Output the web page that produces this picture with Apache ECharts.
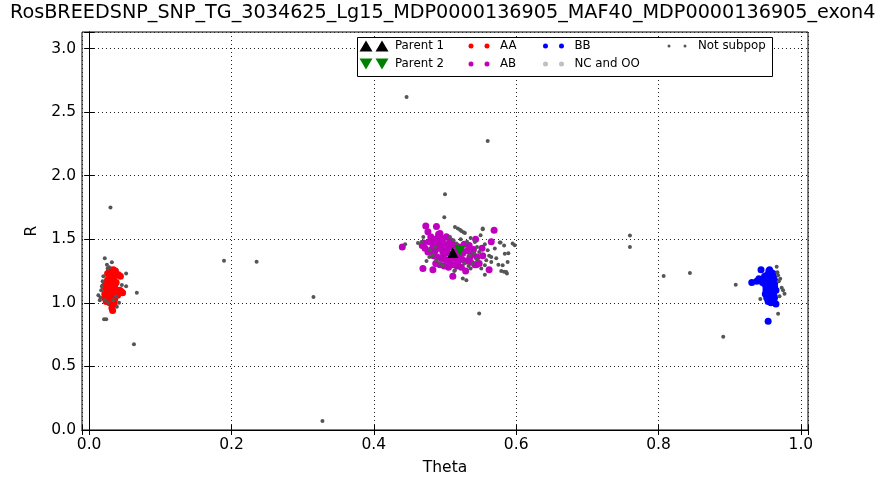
<!DOCTYPE html>
<html>
<head>
<meta charset="utf-8">
<script src="https://cdn.jsdelivr.net/npm/echarts@6/dist/echarts.min.js"></script>
<style>html,body{margin:0;padding:0;background:#fff;}#c{width:880px;height:478px;}</style>
</head>
<body>
<div id="c"></div>
<script>
const TITLE = 'RosBREEDSNP_SNP_TG_3034625_Lg15_MDP0000136905_MAF40_MDP0000136905_exon4';
const X_TICKS = [0.0, 0.2, 0.4, 0.6, 0.8, 1.0];
const Y_TICKS = [0.0, 0.5, 1.0, 1.5, 2.0, 2.5, 3.0];

const PARENT1 = [[0.511, 1.395]];
const PARENT2 = [[0.521, 1.41]];

const AA = [[0.034,1.26],[0.037,1.25],[0.031,1.24],[0.028,1.22],[0.044,1.21],[0.041,1.22],[0.035,1.20],[0.030,1.19],[0.026,1.18],[0.033,1.17],[0.038,1.16],[0.029,1.15],[0.024,1.16],[0.021,1.13],[0.027,1.12],[0.032,1.13],[0.036,1.11],[0.025,1.10],[0.030,1.09],[0.034,1.08],[0.045,1.09],[0.047,1.08],[0.043,1.10],[0.022,1.07],[0.028,1.05],[0.033,1.04],[0.026,1.03],[0.031,1.02],[0.036,1.03],[0.024,1.01],[0.029,1.00],[0.035,0.99],[0.032,0.96],[0.033,0.94],[0.027,1.06],[0.032,1.19],[0.029,1.26],[0.036,1.14],[0.023,1.12],[0.040,1.06],[0.026,1.23],[0.031,1.07],[0.034,1.01],[0.022,1.04],[0.030,1.15]];

const AB = [[0.440,1.44],[0.468,1.45],[0.470,1.47],[0.473,1.605],[0.488,1.60],[0.476,1.56],[0.491,1.54],[0.493,1.545],[0.480,1.52],[0.485,1.50],[0.490,1.51],[0.497,1.50],[0.502,1.52],[0.507,1.49],[0.478,1.48],[0.483,1.46],[0.488,1.47],[0.494,1.46],[0.499,1.45],[0.504,1.46],[0.510,1.47],[0.515,1.45],[0.520,1.44],[0.527,1.46],[0.534,1.45],[0.543,1.50],[0.552,1.43],[0.565,1.48],[0.569,1.57],[0.481,1.42],[0.486,1.41],[0.492,1.43],[0.497,1.40],[0.503,1.42],[0.508,1.38],[0.514,1.40],[0.519,1.37],[0.525,1.39],[0.531,1.41],[0.538,1.38],[0.545,1.36],[0.553,1.37],[0.484,1.37],[0.489,1.36],[0.495,1.35],[0.500,1.34],[0.506,1.33],[0.512,1.35],[0.518,1.32],[0.524,1.34],[0.530,1.33],[0.536,1.32],[0.542,1.30],[0.548,1.31],[0.487,1.31],[0.493,1.30],[0.499,1.29],[0.505,1.28],[0.511,1.30],[0.517,1.29],[0.523,1.28],[0.529,1.25],[0.469,1.27],[0.483,1.26],[0.511,1.21],[0.562,1.26],[0.544,1.30],[0.476,1.40],[0.472,1.43],[0.535,1.36],[0.540,1.42],[0.501,1.39],[0.496,1.44],[0.506,1.44],[0.522,1.42],[0.515,1.36]];

const BB = [[0.955,1.25],[0.958,1.24],[0.961,1.23],[0.953,1.22],[0.957,1.21],[0.962,1.20],[0.950,1.19],[0.955,1.19],[0.959,1.18],[0.964,1.17],[0.952,1.17],[0.956,1.16],[0.960,1.15],[0.949,1.15],[0.954,1.14],[0.958,1.13],[0.963,1.13],[0.951,1.12],[0.956,1.11],[0.960,1.10],[0.965,1.10],[0.953,1.09],[0.957,1.08],[0.961,1.07],[0.950,1.07],[0.955,1.06],[0.959,1.05],[0.963,1.04],[0.952,1.04],[0.956,1.03],[0.960,1.02],[0.954,1.01],[0.958,1.00],[0.962,1.01],[0.957,1.10],[0.953,1.13],[0.961,1.12],[0.955,1.20],[0.959,1.22],[0.963,1.15],[0.951,1.10],[0.957,1.05],[0.962,1.06],[0.956,1.26],[0.944,1.26],[0.931,1.16],[0.941,1.19],[0.938,1.17],[0.965,0.99],[0.954,0.855],[0.946,1.16],[0.949,1.21]];

const NC_OO = [];

const NOT_SUBPOP = [
  [0.022,1.35],[0.032,1.32],[0.052,1.23],[0.052,1.13],[0.067,1.08],[0.021,0.87],[0.024,0.87],[0.013,1.06],[0.015,1.02],[0.027,1.00],[0.034,1.02],[0.038,1.05],[0.022,1.02],[0.039,0.97],[0.020,1.21],[0.019,1.17],[0.025,1.30],[0.028,1.28],[0.017,1.10],[0.042,1.00],[0.018,1.13],[0.046,1.14],[0.030,1.75],[0.063,0.675],[0.026,1.27],[0.016,1.04],
  [0.1895,1.332],[0.2353,1.324],[0.3152,1.046],[0.3278,0.070],[0.7598,1.529],[0.7598,1.440],[0.8072,1.211],[0.8441,1.235],[0.8909,0.734],[0.9085,1.143],
  [0.444,1.46],[0.499,1.673],[0.500,1.854],[0.446,2.618],[0.560,2.272],[0.548,0.917],
  [0.514,1.597],[0.518,1.584],[0.521,1.575],[0.523,1.565],[0.526,1.556],[0.528,1.55],
  [0.553,1.579],[0.550,1.531],[0.542,1.479],[0.577,1.474],[0.584,1.387],[0.588,1.322],[0.581,1.296],[0.586,1.243],[0.579,1.251],[0.595,1.466],[0.598,1.453],[0.570,1.427],[0.560,1.414],[0.565,1.361],[0.558,1.335],[0.565,1.322],[0.556,1.296],[0.551,1.27],[0.539,1.309],[0.525,1.191],[0.530,1.178],[0.514,1.256],[0.535,1.374],[0.4695,1.518],[0.467,1.479],[0.479,1.414],[0.483,1.374],[0.488,1.335],[0.493,1.309],[0.497,1.296],[0.486,1.44],[0.507,1.518],[0.512,1.492],[0.516,1.466],[0.545,1.44],[0.548,1.40],[0.541,1.39],[0.531,1.48],[0.536,1.51],[0.522,1.50],[0.478,1.36],[0.474,1.33],[0.462,1.47],[0.556,1.46],[0.562,1.37],[0.572,1.35],[0.575,1.30],[0.583,1.45],[0.589,1.39],[0.556,1.22],[0.513,1.25],[0.536,1.27],[0.545,1.34],[0.527,1.31],[0.533,1.29],[0.587,1.23],[0.583,1.245],[0.578,1.474],[0.553,1.584],
  [0.966,1.283],[0.968,1.217],[0.969,1.17],[0.973,1.118],[0.977,1.071],[0.970,1.052],[0.943,1.031],[0.968,0.914],[0.971,1.19],[0.975,1.10],[0.967,1.24]
];

const FONT = 'DejaVu Sans';
const ANCH = ' M0,0 L0.01,0 Z M32,12 L31.99,12 Z';
function twoCircles(r) {
  const c = (cx) => `M${cx - r},6 A${r},${r} 0 1,0 ${cx + r},6 A${r},${r} 0 1,0 ${cx - r},6 Z `;
  return 'path://' + c(8) + c(24) + ANCH;
}
const ICON_UP = 'path://M1.5,11.5 L8,0.5 L14.5,11.5 Z M17.5,11.5 L24,0.5 L30.5,11.5 Z' + ANCH;
const ICON_DOWN = 'path://M1.5,0.5 L8,11.5 L14.5,0.5 Z M17.5,0.5 L24,11.5 L30.5,0.5 Z' + ANCH;

function fmt(step) {
  return function (v) {
    const k = v / step;
    if (Math.abs(k - Math.round(k)) > 1e-6) return '';
    return v.toFixed(1);
  };
}

function legendCol(left, items) {
  return {
    orient: 'vertical', left: left, top: 40, padding: 0,
    itemWidth: 32, itemHeight: 12, itemGap: 6,
    symbolKeepAspect: true,
    textStyle: { fontFamily: FONT, fontSize: 11.8, color: '#000', lineHeight: 12 },
    data: items
  };
}

const chart = echarts.init(document.getElementById('c'), null, { renderer: 'canvas' });
const gridSplit = { show: true, lineStyle: { color: '#222', width: 1, type: [1, 3] } };
const axisLineStyle = { show: true, lineStyle: { color: '#000', width: 1 } };
chart.setOption({
  animation: false,
  backgroundColor: '#fff',
  title: {
    text: TITLE, left: 10, top: 4, padding: 0,
    textStyle: { fontFamily: FONT, fontSize: 19.2, fontWeight: 'normal', color: '#000' }
  },
  grid: { left: 82, right: 72, top: 32, bottom: 48, show: true, borderColor: '#000', borderWidth: 1, containLabel: false, outerBoundsMode: 'none' },
  legend: [
    legendCol(358, [{ name: 'Parent 1', icon: ICON_UP }, { name: 'Parent 2', icon: ICON_DOWN }]),
    legendCol(463, [{ name: 'AA', icon: twoCircles(2.5) }, { name: 'AB', icon: twoCircles(2.5) }]),
    legendCol(537.5, [{ name: 'BB', icon: twoCircles(2.5) }, { name: 'NC and OO', icon: twoCircles(2.5) }]),
    legendCol(661, [{ name: 'Not subpop', icon: twoCircles(1.5) }])
  ],
  graphic: [{
    type: 'rect', left: 357, top: 37, z: 4,
    shape: { width: 415, height: 39 },
    style: { fill: '#fff', stroke: '#000', lineWidth: 1 }
  }],
  xAxis: [{
    type: 'value', min: -0.01, max: 1.01, splitNumber: 5,
    name: 'Theta', nameLocation: 'middle', nameGap: 30,
    nameTextStyle: { fontFamily: FONT, fontSize: 15.5, color: '#000' },
    axisLine: axisLineStyle,
    axisTick: { show: true, inside: true, length: 5, lineStyle: { color: '#000' } },
    axisLabel: { fontFamily: FONT, fontSize: 15.5, color: '#000', margin: 7, formatter: fmt(0.2) },
    splitLine: gridSplit
  }, {
    type: 'value', position: 'top', min: -0.01, max: 1.01, splitNumber: 5,
    axisLine: axisLineStyle,
    axisTick: { show: true, inside: true, length: 5, lineStyle: { color: '#000' } },
    axisLabel: { show: false },
    splitLine: { show: false }
  }],
  yAxis: [{
    type: 'value', min: 0, max: 3.13, interval: 0.5,
    name: 'R', nameLocation: 'middle', nameGap: 36,
    nameTextStyle: { fontFamily: FONT, fontSize: 15.5, color: '#000' },
    axisLine: axisLineStyle,
    axisTick: { show: true, inside: true, length: 5, lineStyle: { color: '#000' } },
    axisLabel: { fontFamily: FONT, fontSize: 15.5, color: '#000', margin: 6, formatter: fmt(0.5) },
    splitLine: gridSplit
  }, {
    type: 'value', position: 'right', min: 0, max: 3.13, interval: 0.5,
    axisLine: axisLineStyle,
    axisTick: { show: true, inside: true, length: 5, lineStyle: { color: '#000' } },
    axisLabel: { show: false },
    splitLine: { show: false }
  }],
  series: [
    { name: 'AA', type: 'scatter', data: AA, symbol: 'circle', symbolSize: 7, itemStyle: { color: '#ff0000', opacity: 1 }, silent: true },
    { name: 'AB', type: 'scatter', data: AB, symbol: 'circle', symbolSize: 7, itemStyle: { color: '#bf00bf', opacity: 1 }, silent: true },
    { name: 'BB', type: 'scatter', data: BB, symbol: 'circle', symbolSize: 7, itemStyle: { color: '#0000ff', opacity: 1 }, silent: true },
    { name: 'NC and OO', type: 'scatter', data: NC_OO, symbol: 'circle', symbolSize: 7, itemStyle: { color: '#c0c0c0', opacity: 1 }, silent: true },
    { name: 'Not subpop', type: 'scatter', data: NOT_SUBPOP, symbol: 'circle', symbolSize: 4, itemStyle: { color: '#555555', opacity: 1 }, silent: true },
    { name: 'Parent 1', type: 'scatter', data: PARENT1, symbol: 'triangle', symbolSize: [11, 11], itemStyle: { color: '#000000', opacity: 1 }, silent: true },
    { name: 'Parent 2', type: 'scatter', data: PARENT2, symbol: 'triangle', symbolRotate: 180, symbolSize: [11, 11], itemStyle: { color: '#008000', opacity: 1 }, silent: true }
  ]
});
</script>
</body>
</html>
